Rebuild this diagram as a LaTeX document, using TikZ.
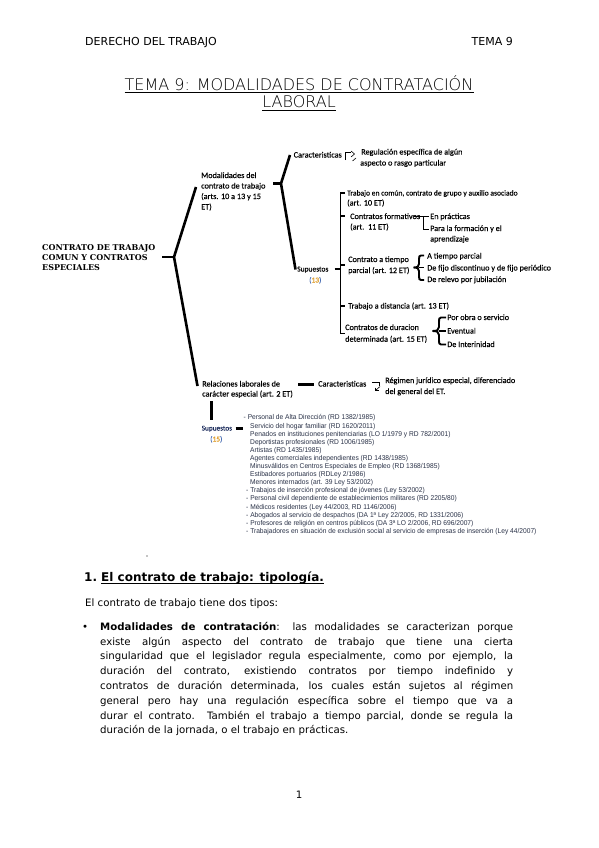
\documentclass[tikz,border=0pt]{standalone}
\usepackage{fontspec}
\usetikzlibrary{arrows.meta}
\setmainfont{DejaVu Sans}
\newfontfamily\carl[FakeBold=0.25]{Carlito}
\newfontfamily\lsans[FakeStretch=0.95]{Liberation Sans}
\newfontfamily\dserif{DejaVu Serif}
\IfFontExistsTF{DejaVu Sans ExtraLight}{\newfontfamily\ttlfont{DejaVu Sans ExtraLight}}{\newfontfamily\ttlfont{DejaVu Sans}}
\definecolor{listc}{HTML}{2A3248}
\definecolor{parc}{HTML}{4A6FB5}
\definecolor{numc}{HTML}{E0A030}
\definecolor{supc}{HTML}{1F2F5F}
\tikzset{
  hdr/.style={font=\fontsize{11}{13}\selectfont, inner sep=0, anchor=base west},
  ttlstyle/.style={font=\ttlfont\fontsize{16}{18}\selectfont, inner sep=0, anchor=base},
  body/.style={font=\fontsize{10.2}{12}\selectfont, inner sep=0, anchor=base west},
  dg/.style={font=\carl\fontsize{8.2}{9}\selectfont, inner sep=0, anchor=base west},
  dgs/.style={font=\carl\fontsize{7.5}{9}\selectfont, inner sep=0, anchor=base west},
  ls/.style={font=\lsans\fontsize{7}{8}\selectfont, inner sep=0, anchor=base west, text=listc},
  big/.style={font=\dserif\bfseries\fontsize{8}{10}\selectfont, inner sep=0, anchor=base west},
  br/.style={line width=2.6pt, line join=round},
  bkt/.style={line width=1.9pt, line join=miter},
  thinar/.style={line width=0.6pt},
  uline/.style={line width=0.7pt},
}
\begin{document}
\begin{tikzpicture}[x=1pt,y=-1pt]
\useasboundingbox (0,0) rectangle (599,848);
\fill[white] (0,0) rectangle (599,848);

% ---------- header ----------
\node[hdr] (h1) at (85,46) {DERECHO DEL TRABAJO};
\node[hdr, anchor=base east] (h2) at (513,46) {TEMA 9};

% ---------- title ----------
\node[ttlstyle] (t1) at (299,90.5) {TEMA 9: MODALIDADES DE CONTRATACIÓN};
\node[ttlstyle] (t2) at (299,108) {LABORAL};
\draw[uline] ([yshift=-2pt]t1.base west) -- ([yshift=-2pt]t1.base east);
\draw[uline] ([yshift=-2pt]t2.base west) -- ([yshift=-2pt]t2.base east);

% ---------- diagram: root ----------
\node[big] (r1) at (42,250.2) {CONTRATO DE TRABAJO};
\node[big] (r2) at (42,260.4) {COMUN Y CONTRATOS};
\node[big] (r3) at (42,270.6) {ESPECIALES};
\coordinate (b1a) at (162,257);
\coordinate (b1tip) at (174,257);
\coordinate (b1top) at (196,187);
\coordinate (b1bot) at (197.5,386);
\draw[br] (b1a) -- (b1tip);
\draw[br] (b1top) -- (b1tip) -- (b1bot);

% modalidades
\node[dg] (m1) at (201,178) {Modalidades del};
\node[dg] (m2) at (201,188.5) {contrato de trabajo};
\node[dg] (m3) at (201,199) {(arts. 10 a 13 y 15};
\node[dg] (m4) at (201,209.5) {ET)};
\coordinate (b2a) at (273,183.5);
\coordinate (b2tip) at (281,183.5);
\coordinate (b2top) at (290,155);
\coordinate (b2bot) at (295.5,269.5);
\draw[br] (b2a) -- (b2tip);
\draw[br] (b2top) -- (b2tip) -- (b2bot);

% caracteristicas 1
\node[dg] (c1) at (293.5,157.5) {Caracteristicas};
\draw[thinar] (345.5,160) -- (345.5,152.5) -- (350.5,152.5);
\draw[thinar] (351,151) -- (354.5,154) -- (351,157);
\draw[thinar] (356,158) -- (352.5,161);
\node[dg] (c1a) at (361,154.5) {Regulación específica de algún};
\node[dg] (c1b) at (360,165.5) {aspecto o rasgo particular};

% supuestos 13
\node[dgs] (s1) at (297,271.5) {Supuestos};
\node[dgs] (s1n) at (309,282.5) {{\color{parc}(}{\color{numc}13}{\color{parc})}};
\coordinate (b3a) at (334.5,269);
\coordinate (b3x) at (340.5,269);
\draw[bkt] (b3a) -- (b3x);
\draw[bkt] (345,193) -- (340.5,193) -- (340.5,333.5) -- (345,333.5);
\draw[bkt] (340.5,216) -- (345,216);
\draw[bkt] (340.5,265) -- (345,265);
\draw[bkt] (340.5,306) -- (345,306);

\node[dg, font=\carl\fontsize{7.6}{9}\selectfont] (i1a) at (347,195.5) {Trabajo en común, contrato de grupo y auxilio asociado};
\node[dg] (i1b) at (347,205.5) {(art. 10 ET)};

\node[dg] (i2a) at (350,219) {Contratos formativos};
\node[dg] (i2b) at (350,229.5) {(art.\ \ 11 ET)};
\draw[bkt] (414,216.5) -- (429,216.5);
\draw[bkt] (423.5,216.5) -- (423.5,229.5) -- (429,229.5);
\node[dg] (i2c) at (430,219) {En prácticas};
\node[dg] (i2d) at (430,231) {Para la formación y el};
\node[dg] (i2e) at (430,241.5) {aprendizaje};

\node[dg] (i3a) at (348,262) {Contrato a tiempo};
\node[dg] (i3b) at (348,273) {parcial (art. 12 ET)};
\draw[bkt] (424,255.5) -- (421,255.5) .. controls (419.5,255.5) and (419,256.5) .. (419,259) -- (419,264) .. controls (419,266.5) and (417.5,267.5) .. (413.5,267.5) .. controls (417.5,267.5) and (419,268.5) .. (419,271) -- (419,276.5) .. controls (419,279) and (419.5,280) .. (421,280) -- (424,280);
\draw[bkt] (419,267.5) -- (424,267.5);
\node[dg] (i3c) at (427,258.5) {A tiempo parcial};
\node[dg] (i3d) at (427,270.5) {De fijo discontinuo y de fijo periódico};
\node[dg] (i3e) at (427,282) {De relevo por jubilación};

\node[dg] (i4) at (348,308.5) {Trabajo a distancia (art. 13 ET)};

\node[dg] (i5a) at (345,330) {Contratos de duracion};
\node[dg] (i5b) at (345,341.7) {determinada (art. 15 ET)};
\draw[bkt] (446,317.5) -- (441,317.5) .. controls (439,317.5) and (439,319) .. (439,322) -- (439,327) .. controls (439,330) and (437,331) .. (432.5,331) .. controls (437,331) and (439,332) .. (439,335) -- (439,340) .. controls (439,343) and (439,344.5) .. (441,344.5) -- (446,344.5);
\draw[bkt] (439,331) -- (446,331);
\node[dg] (i5c) at (447,320) {Por obra o servicio};
\node[dg] (i5d) at (447,333.5) {Eventual};
\node[dg] (i5e) at (447,347) {De Interinidad};

% relaciones laborales especiales
\node[dg] (e1) at (202,386.5) {Relaciones laborales de};
\node[dg] (e2) at (202,396.5) {carácter especial (art. 2 ET)};
\coordinate (e2r) at (298,384.5);
\coordinate (c2l) at (313.5,384.5);
\draw[br] (e2r) -- (c2l);
\node[dg] (c2) at (318,386.5) {Caracteristicas};
\draw[thinar] (372,382) -- (379.5,382) -- (379.5,385.5);
\draw[thinar] (380,386.5) -- (375.5,390.5);
\draw[thinar] (375.5,387.5) -- (375.5,390.5) -- (378.5,390.5);
\node[dg] (c2a) at (385,383) {Régimen jurídico especial, diferenciado};
\node[dg] (c2b) at (385,394) {del general del ET.};

\coordinate (vtop) at (211.5,401);
\coordinate (vbot) at (211.5,420);
\draw[br] (vtop) -- (vbot);
\node[dgs, text=supc, font=\carl\fontsize{7.3}{9}\selectfont] (s2) at (201.5,430.5) {Supuestos};
\node[dgs] (s2n) at (210,441.5) {{\color{parc}(}{\color{numc}15}{\color{parc})}};
\draw[br] (235.5,428.5) -- (243,428.5);

% list
\node[ls] (l1)  at (243.5,419.9) {- Personal de Alta Dirección (RD 1382/1985)};
\node[ls] (l2)  at (250,428.0) {Servicio del hogar familiar (RD 1620/2011)};
\node[ls] (l3)  at (250,436.1) {Penados en instituciones penitenciarias (LO 1/1979 y RD 782/2001)};
\node[ls] (l4)  at (250,444.2) {Deportistas profesionales (RD 1006/1985)};
\node[ls] (l5)  at (250,452.3) {Artistas (RD 1435/1985)};
\node[ls] (l6)  at (250,460.4) {Agentes comerciales independientes (RD 1438/1985)};
\node[ls] (l7)  at (250,468.5) {Minusválidos en Centros Especiales de Empleo (RD 1368/1985)};
\node[ls] (l8)  at (250,476.6) {Estibadores portuarios (RDLey 2/1986)};
\node[ls] (l9)  at (250,484.7) {Menores internados (art. 39 Ley 53/2002)};
\node[ls] (l10) at (246,492.8) {- Trabajos de inserción profesional de jóvenes (Ley 53/2002)};
\node[ls] (l11) at (246,500.9) {- Personal civil dependiente de establecimientos militares (RD 2205/80)};
\node[ls] (l12) at (246,509.0) {- Médicos residentes (Ley 44/2003, RD 1146/2006)};
\node[ls] (l13) at (246,517.1) {- Abogados al servicio de despachos (DA 1ª Ley 22/2005, RD 1331/2006)};
\node[ls] (l14) at (246,525.2) {- Profesores de religión en centros públicos (DA 3ª LO 2/2006, RD 696/2007)};
\node[ls] (l15) at (246,533.3) {- Trabajadores en situación de exclusión social al servicio de empresas de inserción (Ley 44/2007)};
\fill (147,556) circle (0.6);

% ---------- section ----------
\node[body, font=\bfseries\fontsize{12}{14}\selectfont] (sn) at (84,581) {1.};
\node[body, font=\bfseries\fontsize{12}{14}\selectfont] (sh) at (101,581) {El contrato de trabajo: tipología.};
\draw[uline, line width=0.9pt] ([yshift=-2.4pt]sh.base west) -- ([yshift=-2.4pt]sh.base east);

\node[body] (p0) at (85,606) {El contrato de trabajo tiene dos tipos:};
\node[body] (bul) at (82,630.3) {•};
\node[body] (p1) at (100,630.3) {\makebox[413pt][s]{\textbf{Modalidades de contratación}: las modalidades se caracterizan porque}};
\node[body] (p2) at (100,645.1) {\makebox[413pt][s]{existe algún aspecto del contrato de trabajo que tiene una cierta}};
\node[body] (p3) at (100,659.9) {\makebox[413pt][s]{singularidad que el legislador regula especialmente, como por ejemplo, la}};
\node[body] (p4) at (100,674.7) {\makebox[413pt][s]{duración del contrato, existiendo contratos por tiempo indefinido y}};
\node[body] (p5) at (100,689.5) {\makebox[413pt][s]{contratos de duración determinada, los cuales están sujetos al régimen}};
\node[body] (p6) at (100,704.3) {\makebox[413pt][s]{general pero hay una regulación específica sobre el tiempo que va a}};
\node[body] (p7) at (100,719.1) {\makebox[413pt][s]{durar el contrato. También el trabajo a tiempo parcial, donde se regula la}};
\node[body] (p8) at (100,733.9) {duración de la jornada, o el trabajo en prácticas.};

\node[body, anchor=base] (pg) at (299,798.5) {1};
\end{tikzpicture}
\end{document}
